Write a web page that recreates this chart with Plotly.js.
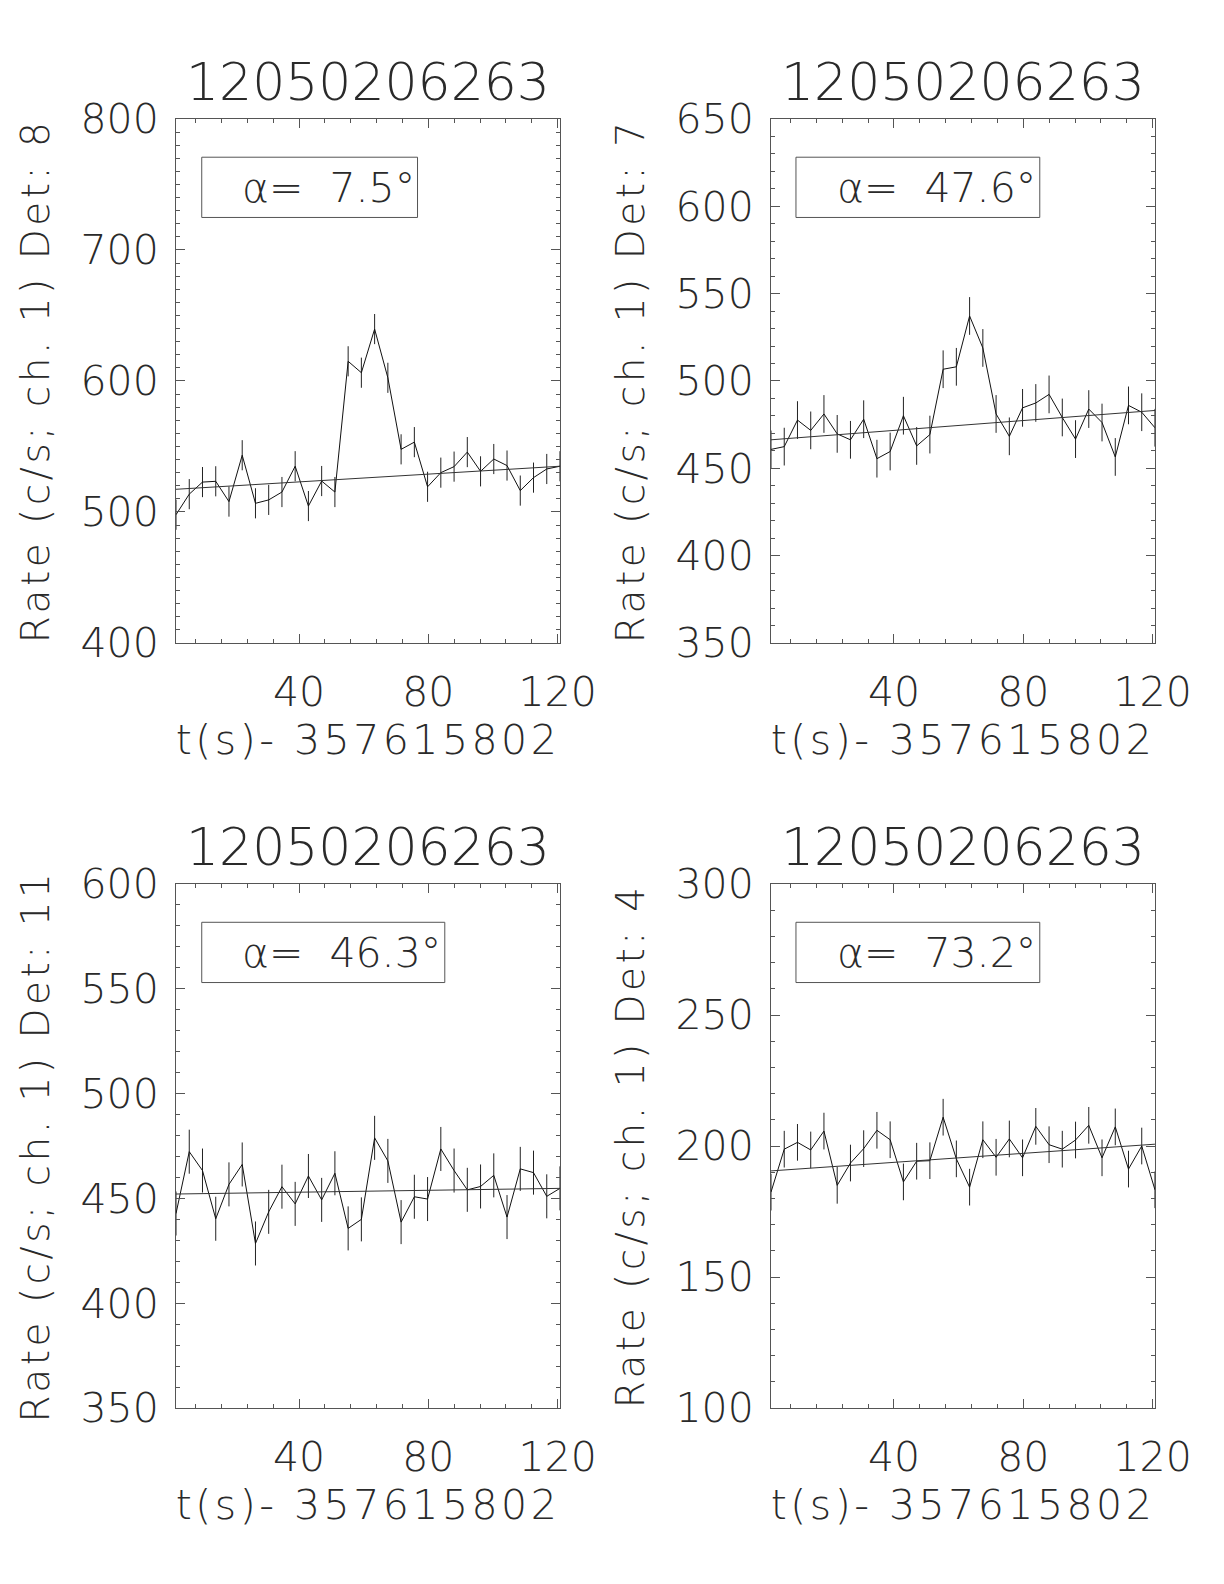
<!DOCTYPE html>
<html><head><meta charset="utf-8">
<script src="https://cdn.plot.ly/plotly-3.0.1.min.js"></script>
<style>
html,body{margin:0;padding:0;background:#fff;}
#chart{width:1224px;height:1584px;}
text.xtitle, text.x2title, text.x3title, text.x4title { letter-spacing: 3.5px; }
text.ytitle, text.y2title, text.y3title, text.y4title { letter-spacing: 3.5px; }
</style>
</head><body><div id="chart"></div>
<script>
// ---- data ----
const timeSec = [1.95, 6.05, 10.14, 14.24, 18.33, 22.43, 26.53, 30.62, 34.72, 38.81,
                 42.91, 47.01, 51.10, 55.20, 59.29, 63.39, 67.49, 71.58, 75.68, 79.77,
                 83.87, 87.97, 92.06, 96.16, 100.25, 104.35, 108.45, 112.54, 116.64, 120.73];

const rateDet8 = [497.9, 513.6, 522.8, 523.4, 507.9, 543.3, 506.6, 509.2, 515.2, 534.9,
                  504.5, 523.6, 515.2, 615.0, 606.3, 639.6, 602.4, 547.8, 553.3, 519.2,
                  530.0, 534.6, 545.7, 531.0, 540.4, 535.4, 516.3, 526.2, 532.8, 534.9];
const rateDet7 = [460.8, 462.4, 477.6, 471.7, 481.1, 469.7, 466.3, 478.1, 455.5, 459.6,
                  480.1, 462.8, 469.3, 506.7, 508.1, 537.2, 518.9, 481.1, 468.3, 484.6,
                  487.4, 492.3, 479.1, 466.7, 483.9, 476.2, 456.5, 486.0, 482.1, 473.2];
const rateDet11 = [442.8, 472.3, 463.3, 440.3, 456.7, 466.2, 428.5, 443.6, 455.6, 447.4,
                   460.7, 449.3, 462.0, 435.7, 440.0, 478.9, 467.9, 438.7, 450.8, 449.7,
                   473.6, 463.3, 454.1, 455.7, 461.0, 441.1, 464.1, 462.3, 451.0, 454.8];
const rateDet4 = [182.4, 198.8, 201.4, 198.5, 205.7, 185.0, 193.5, 199.0, 206.0, 202.4,
                  186.3, 194.2, 194.4, 211.0, 195.1, 184.3, 202.4, 195.7, 202.7, 195.5,
                  207.5, 200.5, 198.8, 202.3, 207.9, 195.5, 207.3, 191.2, 200.0, 183.3];

// error-bar half lengths (c/s), one per panel
const errDet8 = 11.5, errDet7 = 10.8, errDet11 = 10.5, errDet4 = 7.0;

// background linear fit, value at first and last time bin
const fitDet8 = [517.3, 534.9];
const fitDet7 = [466.3, 483.1];
const fitDet11 = [452.1, 454.8];
const fitDet4 = [190.5, 200.7];

const detectors = ['8', '7', '11', '4'];
const alphaDeg = ['7.5', '47.6', '46.3', '73.2'];
const burstName = '12050206263';
const tZero = '357615802';
const yRanges = [[400, 800], [350, 650], [350, 600], [100, 300]];
const yMajor = [100, 50, 50, 50];

// ---- drawing ----
const series = [rateDet8, rateDet7, rateDet11, rateDet4];
const errs = [errDet8, errDet7, errDet11, errDet4];
const fits = [fitDet8, fitDet7, fitDet11, fitDet4];

const FONT = '"DejaVu Sans", Roboto, sans-serif';
const W = 200;
const TXT = '#2a2a2a';
const AX = '#555555';

const xDomains = [[0.1438, 0.4575], [0.6299, 0.9436], [0.1438, 0.4575], [0.6299, 0.9436]];
const yDomains = [[0.5941, 0.9249], [0.5941, 0.9249], [0.1111, 0.4419], [0.1111, 0.4419]];
const boxX = [[0.067, 0.629], [0.065, 0.700], [0.067, 0.700], [0.065, 0.700]];

const traces = [];
const layout = {
  width: 1224, height: 1584,
  margin: {l: 0, r: 0, t: 0, b: 0},
  paper_bgcolor: '#fff', plot_bgcolor: '#fff',
  showlegend: false,
  font: {family: FONT, color: TXT, weight: W},
  shapes: [], annotations: []
};

for (let i = 0; i < 4; i++) {
  const n = i + 1;
  const xa = n === 1 ? 'x' : 'x' + n;
  const ya = n === 1 ? 'y' : 'y' + n;
  traces.push({
    type: 'scatter', mode: 'lines', x: timeSec, y: series[i],
    xaxis: xa, yaxis: ya,
    line: {color: '#111', width: 1},
    error_y: {type: 'constant', value: errs[i], visible: true, width: 0, thickness: 1, color: '#222'},
    hoverinfo: 'skip'
  });
  traces.push({
    type: 'scatter', mode: 'lines',
    x: [timeSec[0], timeSec[timeSec.length - 1]], y: fits[i],
    xaxis: xa, yaxis: ya,
    line: {color: '#333', width: 1},
    hoverinfo: 'skip'
  });
  layout['xaxis' + (n === 1 ? '' : n)] = {
    domain: xDomains[i], anchor: ya,
    range: [timeSec[0], timeSec[timeSec.length - 1]],
    tick0: 0, dtick: 40,
    ticks: 'inside', ticklen: 9, tickwidth: 1, tickcolor: AX,
    minor: {ticks: 'inside', ticklen: 4, tickwidth: 1, tickcolor: AX, tick0: 0, dtick: 8, showgrid: false},
    showline: true, linecolor: AX, linewidth: 1, mirror: 'ticks',
    showgrid: false, zeroline: false,
    tickfont: {family: FONT, size: 41, color: TXT, weight: W},
    ticklabelstandoff: 13,
    title: {text: 't(s)- ' + tZero, font: {family: FONT, size: 41, color: TXT, weight: W}, standoff: 10}
  };
  layout['yaxis' + (n === 1 ? '' : n)] = {
    domain: yDomains[i], anchor: xa,
    range: yRanges[i],
    tick0: 0, dtick: yMajor[i],
    ticks: 'inside', ticklen: 9, tickwidth: 1, tickcolor: AX,
    minor: {ticks: 'inside', ticklen: 4, tickwidth: 1, tickcolor: AX, tick0: 0, dtick: 10, showgrid: false},
    showline: true, linecolor: AX, linewidth: 1, mirror: 'ticks',
    showgrid: false, zeroline: false,
    tickfont: {family: FONT, size: 41, color: TXT, weight: W},
    ticklabelstandoff: 8,
    title: {text: 'Rate (c/s; ch. 1) Det: ' + detectors[i], font: {family: FONT, size: 39, color: TXT, weight: W}, standoff: 18}
  };
  layout.annotations.push({
    xref: xa + ' domain', yref: ya + ' domain', x: 0.5, y: 1, yanchor: 'bottom', xanchor: 'center',
    yshift: 5, showarrow: false, text: burstName,
    font: {family: FONT, size: 52, color: TXT, weight: W}
  });
  layout.shapes.push({
    type: 'rect', xref: xa + ' domain', yref: ya + ' domain',
    x0: boxX[i][0], x1: boxX[i][1], y0: 0.812, y1: 0.927,
    line: {color: AX, width: 1}, fillcolor: 'rgba(0,0,0,0)'
  });
  layout.annotations.push({
    xref: xa + ' domain', yref: ya + ' domain', x: 0.167, y: 0.869, xanchor: 'left', yanchor: 'middle',
    showarrow: false, text: 'α=  ' + alphaDeg[i] + '°',
    font: {family: FONT, size: 41, color: TXT, weight: W}
  });
}

Plotly.newPlot('chart', traces, layout, {staticPlot: true, displayModeBar: false});
</script>
</body></html>
